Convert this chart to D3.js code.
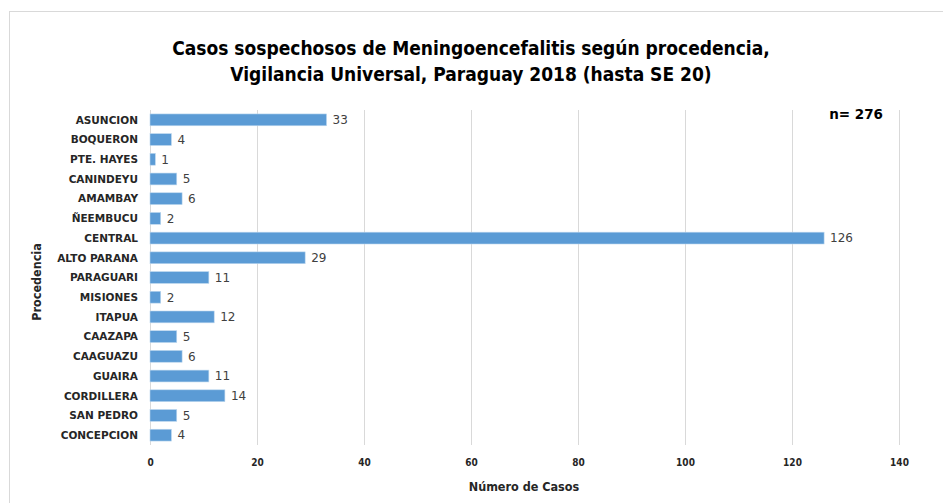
<!DOCTYPE html>
<html>
<head>
<meta charset="utf-8">
<script src="https://cdn.jsdelivr.net/npm/d3@7"></script>
<style>
  body { margin: 0; background: #fff; }
  svg text { font-family: "DejaVu Sans", sans-serif; }
  .cond { font-stretch: condensed; }
</style>
</head>
<body>
<div id="chart"></div>
<script>
const categories = ["ASUNCION", "BOQUERON", "PTE. HAYES", "CANINDEYU", "AMAMBAY", "ÑEEMBUCU",
    "CENTRAL", "ALTO PARANA", "PARAGUARI", "MISIONES", "ITAPUA", "CAAZAPA", "CAAGUAZU",
    "GUAIRA", "CORDILLERA", "SAN PEDRO", "CONCEPCION"];
const casos = [33, 4, 1, 5, 6, 2, 126, 29, 11, 2, 12, 5, 6, 11, 14, 5, 4];
const xTicks = [0, 20, 40, 60, 80, 100, 120, 140];
const titleLines = ["Casos sospechosos de Meningoencefalitis según procedencia,",
    "Vigilancia Universal, Paraguay 2018 (hasta SE 20)"];

const width = 943, height = 503;
const svg = d3.select("#chart").append("svg")
    .attr("width", width)
    .attr("height", height);

// chart frame
svg.append("rect")
    .attr("x", 9.5).attr("y", 11.5)
    .attr("width", 960).attr("height", 520)
    .attr("fill", "none")
    .attr("stroke", "#d9d9d9");

const x = d3.scaleLinear().domain([0, 140]).range([150, 899]);
const y = d3.scaleBand().domain(categories).range([110, 445]).paddingInner(0.4).paddingOuter(0.2);

// gridlines
svg.append("g")
    .selectAll("line")
    .data(xTicks)
    .join("line")
    .attr("x1", d => x(d) + 0.5)
    .attr("x2", d => x(d) + 0.5)
    .attr("y1", 110)
    .attr("y2", 445)
    .attr("stroke", "#d9d9d9")
    .attr("stroke-width", 1);

// bars
svg.append("g")
    .selectAll("rect")
    .data(categories)
    .join("rect")
    .attr("x", x(0))
    .attr("y", d => y(d))
    .attr("width", (d, i) => x(casos[i]) - x(0))
    .attr("height", y.bandwidth())
    .attr("fill", "#5b9bd5")
    .attr("stroke", "#bdd7ee")
    .attr("stroke-width", 0.6);

// value labels
svg.append("g")
    .selectAll("text")
    .data(categories)
    .join("text")
    .attr("x", (d, i) => x(casos[i]) + 6)
    .attr("y", d => y(d) + y.bandwidth() / 2)
    .attr("dy", "0.36em")
    .attr("font-size", 12)
    .attr("fill", "#404040")
    .text((d, i) => casos[i]);

// category labels
svg.append("g")
    .selectAll("text")
    .data(categories)
    .join("text")
    .attr("x", 138)
    .attr("y", d => y(d) + y.bandwidth() / 2)
    .attr("dy", "0.36em")
    .attr("text-anchor", "end")
    .attr("font-size", 10.5)
    .attr("font-weight", "bold")
    .attr("fill", "#262626")
    .text(d => d);

// x axis ticks
const xAxis = svg.append("g")
    .attr("transform", "translate(0,459)")
    .call(d3.axisBottom(x).tickValues(xTicks).tickSize(0).tickPadding(0));
xAxis.select(".domain").remove();
xAxis.selectAll("text")
    .attr("class", "cond")
    .attr("font-size", 10)
    .attr("font-weight", "bold")
    .attr("fill", "#262626");

// axis titles
svg.append("text")
    .attr("class", "cond")
    .attr("x", 524).attr("y", 491)
    .attr("text-anchor", "middle")
    .attr("font-size", 12.5)
    .attr("font-weight", "bold")
    .attr("fill", "#262626")
    .text("Número de Casos");

svg.append("text")
    .attr("class", "cond")
    .attr("transform", "translate(41,282) rotate(-90)")
    .attr("text-anchor", "middle")
    .attr("font-size", 12.5)
    .attr("font-weight", "bold")
    .attr("fill", "#262626")
    .text("Procedencia");

// title
svg.append("g")
    .selectAll("text")
    .data(titleLines)
    .join("text")
    .attr("class", "cond")
    .attr("x", 471)
    .attr("y", (d, i) => 55 + i * 26)
    .attr("text-anchor", "middle")
    .attr("font-size", 19)
    .attr("font-weight", "bold")
    .attr("fill", "#000")
    .text(d => d);

// n label
svg.append("text")
    .attr("x", 883).attr("y", 119)
    .attr("text-anchor", "end")
    .attr("font-size", 13.5)
    .attr("font-weight", "bold")
    .attr("font-family", "\"Liberation Sans\", Arial, sans-serif")
    .attr("fill", "#000")
    .text("n= 276");
</script>
</body>
</html>
